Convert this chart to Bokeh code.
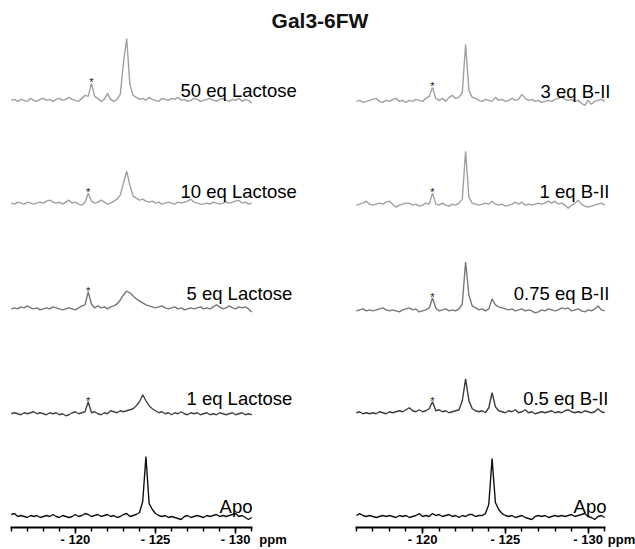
from bokeh.plotting import figure
from bokeh.models import Range1d, FixedTicker, Label, Div, CustomJSTickFormatter, LinearAxis
from bokeh.layouts import column, row
from bokeh.embed import file_html
from bokeh.resources import INLINE

# ---- data -------------------------------------------------------------
# chemical-shift sampling grid (ppm), 0.2 ppm step
ppm = [round(-116.0 - 0.2 * i, 1) for i in range(76)]

# left panel: Gal3-6FW titrated with lactose (intensity, arbitrary units)
lac50 = [0, 1, -1, 1, 0, -1, 2, 0, -1, 1, 2, 0, 1, -1, 1, 2, 0, 1, 3, 1,
         0, -1, 2, 5, 4, 17, 4, 2, -1, 1, 7, 1, -1, 1, 6, 38, 62, 16, 5, 3,
         1, 2, 0, 3, 1, 0, -1, 2, 1, 0, 2, 1, 3, 0, 1, -1, 0, 2, 1, -1,
         0, 1, 2, 0, -1, 1, 2, 0, -1, 1, 0, 2, -1, 1, 0, -3]
lac10 = [0, -1, 1, 0, -1, 1, 0, -1, 0, 1, 0, 2, 3, 1, 0, 1, -1, 1, 3, 0,
         1, -1, -2, 1, 10, 2, 0, 1, 3, 1, -1, 0, 2, 4, 8, 20, 32, 18, 7, 5,
         3, 4, 2, 1, 2, 0, 1, -1, 0, 1, 0, -1, 1, 0, 1, 2, 4, 1, 0, -1,
         -1, 0, -1, 1, 0, -1, 0, 1, 0, 1, 2, 3, 0, 1, -1, 0]
lac5 = [0, 1, 0, 2, 1, 3, 1, 0, 1, -1, 0, 1, 0, 2, 1, 0, -1, 0, 1, 0,
        -1, 1, 3, 4, 17, 5, 1, 3, 1, 2, 0, 2, 3, 5, 9, 14, 18, 16, 13, 10,
        8, 6, 4, 3, 2, 1, 2, 3, 1, 0, 1, 2, 0, 1, -1, 0, 1, 0, 1, 2,
        0, 1, 0, 2, 4, 2, 0, 1, 3, 1, 0, 2, 1, 2, 0, -3]
lac1 = [0, 1, 0, -1, 1, 0, 1, 2, 0, 1, 0, -1, 1, 0, 1, -1, 0, -2, -1, 1,
        2, 0, 1, 2, 12, 1, 2, 0, -1, 1, 0, 3, 2, 1, 3, 2, 3, 4, 5, 8,
        12, 19, 13, 8, 5, 3, 1, 2, 0, 1, -1, 1, 0, 2, 0, -1, 1, 0, 1, -1,
        0, 1, -1, 0, -1, 1, 0, -1, 0, 1, -1, 0, 1, -1, 0, -1]
apo_left = [2, 3, 0, 1, 0, -1, 1, 0, 1, -1, 0, 1, 0, 2, 0, -1, 1, 0, -1, 0,
            2, 0, 1, 3, 2, 0, 1, 2, 0, 1, 2, 0, 1, -1, 0, 2, 3, 0, 1, 2,
            4, 15, 60, 13, 7, 3, 1, 0, 1, -1, 0, -1, -2, -3, 0, 1, -1, 0, 1, 0,
            -1, 1, 0, 1, 2, 0, 1, 0, 1, 2, 3, 0, 1, -1, -3, -1]

# right panel: Gal3-6FW titrated with B-II
bii3 = [0, 1, -1, 0, 1, 2, 3, 0, -1, 1, 0, 2, 3, 0, 1, -1, 1, 0, 2, 1,
        0, 3, 5, 14, 3, 1, 3, 0, 4, 6, 3, 4, 9, 57, 11, 4, 3, 1, 0, 2,
        1, 0, 4, 1, 2, 0, 1, 3, 1, 2, 7, 3, 1, 2, 0, 1, -1, 0, 1, 0,
        2, 3, 5, 2, 1, 2, 0, 1, -2, -4, 1, -3, 0, 1, 2, 0]
bii1 = [0, 1, 2, 4, 1, 0, 1, 2, 1, 3, 4, 1, -2, 0, 1, 2, 2, 0, 1, -1,
        0, 2, 1, 12, 1, 0, 2, 0, -1, 1, 0, 2, 6, 54, 8, 2, 1, 0, 1, 2,
        1, 4, 1, 0, 1, -1, 0, 1, 3, 1, 3, 0, 1, 0, 1, 2, 1, 2, 4, 2,
        4, 1, 2, 0, -3, 0, 2, 5, 1, -1, -2, -1, 0, 1, 2, 0]
bii075 = [0, 1, 2, 0, 1, 0, 1, 2, 3, 1, 0, 1, 0, -1, 1, 2, 3, 1, 2, -1,
          0, 1, 3, 13, 3, 0, 1, 2, 0, 1, 0, 2, 7, 49, 16, 5, 3, 1, 2, 0,
          2, 12, 6, 4, 3, 2, 1, 2, 0, 1, 2, 0, 1, 0, -2, -1, 1, 0, 2, 1,
          0, 1, 3, 2, 3, 0, 1, 2, 0, -1, 1, 0, 2, 5, 1, 0]
bii05 = [0, 1, -1, 0, -1, 0, -1, 1, 0, -1, 1, 0, 1, 2, 1, 3, 5, 2, 1, 3,
         1, 2, 4, 11, 2, 3, 1, 2, 0, 1, 2, 3, 12, 34, 12, 4, 2, 1, 2, 0,
         5, 20, 6, 2, 1, 0, 2, 1, 3, 0, 1, 3, 0, 1, -1, 0, 1, 0, 1, 2,
         0, 1, 0, 2, 3, 1, 0, 1, 0, 2, 1, 0, 1, 4, 1, 0]
apo_right = [1, 3, 1, 0, 1, 0, -1, 0, 1, 0, 1, 0, -1, 1, 0, 1, -1, 0, 1, 3,
             0, 1, 0, 3, 1, 2, 0, 1, 2, 0, 1, -1, 1, 0, 2, 2, 0, 1, 1, 3,
             12, 58, 14, 7, 3, 1, 0, 1, -1, 0, 1, -1, -2, -3, 0, 1, 0, 1, -1, 0,
             1, 0, 1, 0, 1, 2, 0, 1, 2, 3, 0, -1, -3, 0, 1, -1]

left_names = ["50 eq Lactose", "10 eq Lactose", "5 eq Lactose", "1 eq Lactose", "Apo"]
right_names = ["3 eq B-II", "1 eq B-II", "0.75 eq B-II", "0.5 eq B-II", "Apo"]
left_series = [lac50, lac10, lac5, lac1, apo_left]
right_series = [bii3, bii1, bii075, bii05, apo_right]
left_star_index = [25, 24, 24, 24]     # reference peak marked with *
right_star_index = [23, 23, 23, 23]
tick_values = [-120, -125, -130]
minor_tick_values = list(range(-131, -115))
axis_span = (-131.05, -115.95)          # ppm window of each spectrum

# ---- layout / style ---------------------------------------------------
FONT = "Liberation Sans"
left_offsets = [428, 325, 219, 114, 11]
right_offsets = [427, 323, 217, 115, 11]
left_colors = ["#a0a0a0", "#a0a0a0", "#767676", "#444444", "#111111"]
right_colors = ["#a0a0a0", "#a0a0a0", "#787878", "#3c3c3c", "#111111"]
left_label_pos = [(-126.56, 438, "left"), (-126.56, 337, "left"), (-126.93, 234, "left"),
                  (-126.93, 129, "left"), (-131.05, 21, "right")]
right_label_pos = [(-131.35, 437, "right"), (-131.29, 337, "right"), (-131.29, 234, "right"),
                   (-131.23, 129, "right"), (-131.11, 21, "right")]


def make_panel(series, names, offsets, colors, label_pos, star_idx,
               fig_width, axis_left_px, axis_right_px, unit_x):
    # frame covers the whole figure; the axis is bounded to the spectral window
    scale = (axis_right_px - axis_left_px) / (axis_span[1] - axis_span[0])
    x_start = axis_span[1] + axis_left_px / scale
    x_end = axis_span[1] - (fig_width - axis_left_px) / scale
    p = figure(width=fig_width, height=519,
               x_range=Range1d(x_start, x_end), y_range=Range1d(0, 498),
               output_backend="svg", toolbar_location=None, y_axis_location=None,
               min_border_left=0, min_border_right=0,
               min_border_top=0, min_border_bottom=20)
    p.outline_line_color = None
    p.grid.visible = False
    p.background_fill_color = "white"

    for vals, off, col in zip(series, offsets, colors):
        p.line(ppm, [v + off for v in vals], line_color=col, line_width=1.4)

    for (x, y, al), name in zip(label_pos, names):
        p.add_layout(Label(x=x, y=y, text=name, text_font=FONT, text_font_size="18.5px",
                           text_align=al, text_baseline="alphabetic", text_color="black"))

    for k, si in enumerate(star_idx):
        p.add_layout(Label(x=ppm[si], y=offsets[k] + series[k][si] + 1, text="*",
                           text_font=FONT, text_font_size="11px", text_align="center",
                           text_baseline="alphabetic", text_color="#111111"))

    # axis line + tick marks (labels carried by the second axis below)
    ax = p.xaxis[0]
    ax.bounds = axis_span
    ax.ticker = FixedTicker(ticks=tick_values, minor_ticks=minor_tick_values)
    ax.axis_line_width = 1.8
    ax.axis_line_color = "black"
    ax.major_tick_line_width = 1.6
    ax.minor_tick_line_width = 1.4
    ax.major_tick_out = 6
    ax.major_tick_in = 0
    ax.minor_tick_out = 4
    ax.minor_tick_in = 0
    ax.major_label_standoff = 0
    ax.major_label_text_font_size = "0px"
    ax.formatter = CustomJSTickFormatter(code="return '';")

    # tick labels and the "ppm" unit, on a line-less axis
    unit_pos = round(unit_x, 2)
    lab = LinearAxis(bounds=(axis_span[1], unit_pos - 1.5),
                     ticker=FixedTicker(ticks=tick_values + [unit_pos], minor_ticks=[]),
                     formatter=CustomJSTickFormatter(
                         args=dict(u=unit_pos),
                         code="return Math.abs(tick - u) < 1e-6 ? 'ppm' : '- ' + Math.abs(tick);"))
    lab.axis_line_color = None
    lab.major_tick_line_color = None
    lab.major_tick_out = 0
    lab.major_tick_in = 0
    lab.minor_tick_out = 0
    lab.minor_tick_in = 0
    lab.major_label_standoff = -2
    lab.major_label_text_font = FONT
    lab.major_label_text_font_style = "bold"
    lab.major_label_text_font_size = "13px"
    lab.major_label_text_color = "black"
    p.add_layout(lab, "below")
    return p


p_left = make_panel(left_series, left_names, left_offsets, left_colors, left_label_pos,
                    left_star_index, 305, 10, 252, -132.33)
p_right = make_panel(right_series, right_names, right_offsets, right_colors, right_label_pos,
                     right_star_index, 330, 50, 300, -132.02)

title = Div(text="Gal3-6FW", width=635, height=30, margin=(0, 0, 0, 0),
            styles={"font-family": FONT, "font-weight": "bold", "font-size": "21px",
                    "text-align": "center", "line-height": "20px", "color": "#111111",
                    "padding-top": "11px", "padding-left": "5px", "box-sizing": "border-box"})

layout = column(title, row(p_left, p_right, spacing=0), spacing=0)

open("out.html", "w").write(file_html(layout, INLINE, title="Gal3-6FW"))
